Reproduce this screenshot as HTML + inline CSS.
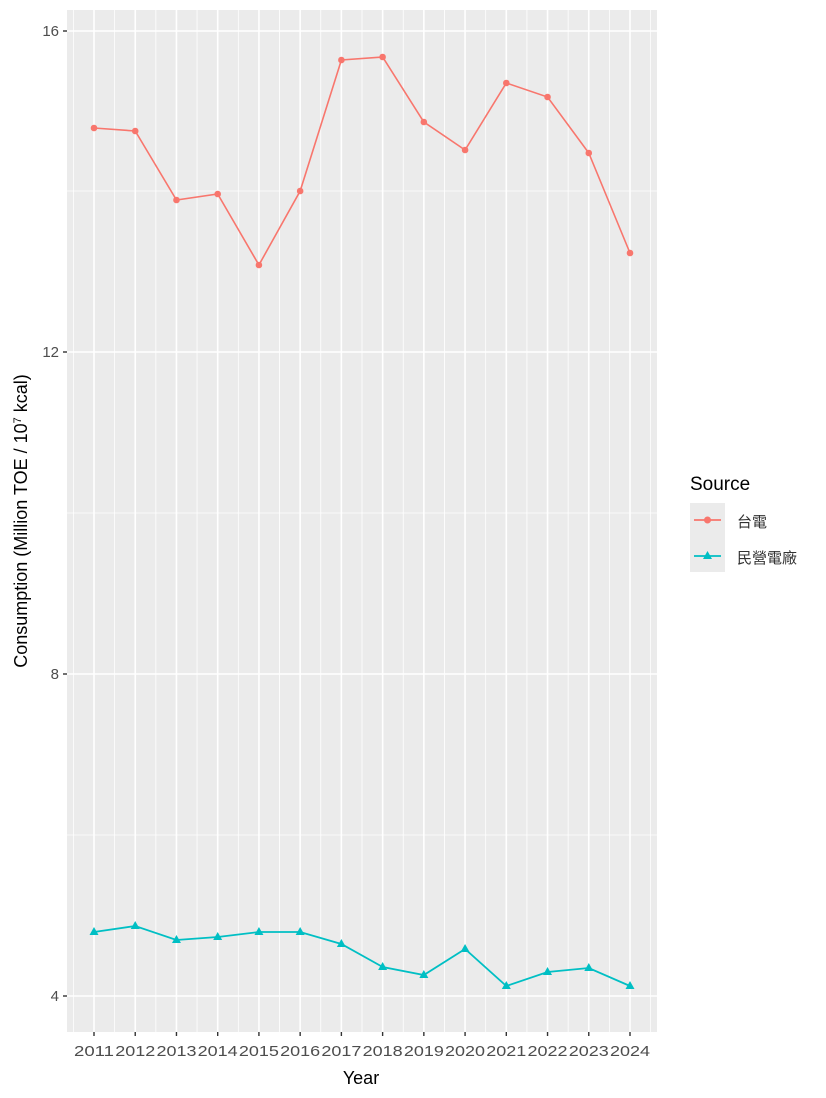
<!DOCTYPE html><html><head><meta charset="utf-8"><style>body{margin:0;background:#fff}svg{display:block}text{font-family:"Liberation Sans","Noto Sans CJK TC",sans-serif}</style></head><body>
<svg width="826" height="1098" viewBox="0 0 826 1098">
<rect x="67" y="10" width="590" height="1022" fill="#ebebeb"/>
<g stroke="#fff" stroke-width="0.8">
<line x1="67" x2="657" y1="191" y2="191"/><line x1="67" x2="657" y1="513" y2="513"/><line x1="67" x2="657" y1="835" y2="835"/>
</g>
<g id="g" stroke="#fff"></g>
<g stroke="#fff" stroke-width="1.6">
<line x1="67" x2="657" y1="31" y2="31"/><line x1="67" x2="657" y1="352" y2="352"/><line x1="67" x2="657" y1="674" y2="674"/><line x1="67" x2="657" y1="996" y2="996"/>
</g>
<g stroke="#333" stroke-width="1.4">
<line x1="63" x2="67" y1="31" y2="31"/><line x1="63" x2="67" y1="352" y2="352"/><line x1="63" x2="67" y1="674" y2="674"/><line x1="63" x2="67" y1="996" y2="996"/>
</g>
<g font-size="15" fill="#4d4d4d" text-anchor="end"><text x="59" y="36">16</text><text x="59" y="357">12</text><text x="59" y="679">8</text><text x="59" y="1001">4</text></g>
<g id="xl" font-size="15" fill="#4d4d4d" text-anchor="middle"></g>
<text x="361" y="1084" font-size="18" text-anchor="middle">Year</text>
<text transform="translate(27,521) rotate(-90)" font-size="18" text-anchor="middle">Consumption (Million TOE / 10<tspan font-size="11" dy="-6">7</tspan><tspan dy="6"> kcal)</tspan></text>
<polyline id="r" fill="none" stroke="#f8766d" stroke-width="1.6"/>
<polyline id="b" fill="none" stroke="#00bfc4" stroke-width="1.8"/>
<g id="m"></g>
<text x="690" y="490" font-size="19">Source</text>
<rect x="690" y="503" width="35" height="69" fill="#ebebeb"/>
<line x1="694" x2="721" y1="520" y2="520" stroke="#f8766d" stroke-width="1.8"/><circle cx="707.5" cy="520" r="3.5" fill="#f8766d"/>
<line x1="694" x2="721" y1="556" y2="556" stroke="#00bfc4" stroke-width="1.8"/><polygon points="707.5,551 712,559 703,559" fill="#00bfc4"/>
<text x="737" y="527" font-size="15" fill="#333">台電</text>
<text x="737" y="563" font-size="15" fill="#333">民營電廠</text>
</svg>
<script>
var ns="http://www.w3.org/2000/svg";
function el(t,a,p){var e=document.createElementNS(ns,t);for(var k in a)e.setAttribute(k,a[k]);p.appendChild(e);return e}
var g=document.getElementById('g'),xl=document.getElementById('xl'),m=document.getElementById('m'),svg=document.querySelector('svg');
var s=536/13;
for(var i=-1;i<14;i++){var x=94+s*(i+0.5);if(x<657)el('line',{x1:x,x2:x,y1:10,y2:1032,'stroke-width':0.8},g);}
for(var i=0;i<14;i++){var x=94+s*i;el('line',{x1:x,x2:x,y1:10,y2:1032,'stroke-width':1.6},g);
el('line',{x1:x,x2:x,y1:1032,y2:1036,stroke:'#333','stroke-width':1.4},svg);
var t=el('text',{x:x,y:1056,textLength:40,lengthAdjust:'spacingAndGlyphs'},xl);t.textContent=2011+i;}
var R=[128,131,200,194,265,191,60,57,122,150,83,97,153,253],B=[932,926,940,937,932,932,944,967,975,949,986,972,968,986];
var pr=[],pb=[];
for(var i=0;i<14;i++){var x=94+s*i;pr.push(x+','+R[i]);pb.push(x+','+B[i]);
el('circle',{cx:x,cy:R[i],r:3.3,fill:'#f8766d'},m);
el('polygon',{points:x+','+(B[i]-5)+' '+(x+4.5)+','+(B[i]+3)+' '+(x-4.5)+','+(B[i]+3),fill:'#00bfc4'},m);}
document.getElementById('r').setAttribute('points',pr.join(' '));
document.getElementById('b').setAttribute('points',pb.join(' '));
</script>
</body></html>
